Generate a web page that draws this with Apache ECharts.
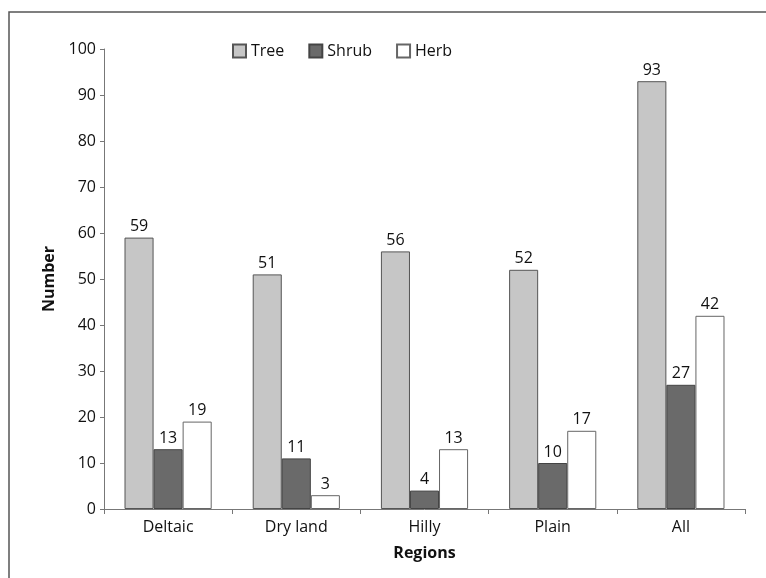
<!DOCTYPE html>
<html>
<head>
<meta charset="utf-8">
<script src="https://cdn.jsdelivr.net/npm/echarts@6/dist/echarts.min.js"></script>
<style>
html,body{margin:0;padding:0;background:#fff;}
#chart{width:766px;height:578px;}
</style>
</head>
<body>
<div id="chart"></div>
<script>
// Species counts by region
const regions = ['Deltaic', 'Dry land', 'Hilly', 'Plain', 'All'];
const tree = [59, 51, 56, 52, 93];
const shrub = [13, 11, 4, 10, 27];
const herb = [19, 3, 13, 17, 42];

const font = '"Open Sans", "DejaVu Sans", sans-serif';

const labelStyle = {
  show: true,
  position: 'top',
  color: '#111',
  fontSize: 16,
  fontFamily: font,
  distance: 3
};

const chart = echarts.init(document.getElementById('chart'));
chart.setOption({
  animation: false,
  backgroundColor: '#fff',
  textStyle: { fontFamily: font },
  legend: {
    top: 38,
    left: 227,
    icon: 'rect',
    itemWidth: 13,
    itemHeight: 13,
    itemGap: 24,
    textStyle: { fontSize: 16, color: '#111', fontFamily: font },
    data: ['Tree', 'Shrub', 'Herb']
  },
  grid: { left: 104, right: 21, top: 49, bottom: 69 },
  graphic: [
    {
      type: 'polyline',
      shape: { points: [[9, 578], [9, 12], [766, 12]] },
      style: { stroke: '#555', lineWidth: 1.5, fill: null },
      silent: true
    }
  ],
  xAxis: {
    type: 'category',
    data: regions,
    name: 'Regions',
    nameLocation: 'middle',
    nameGap: 36,
    nameTextStyle: { fontSize: 16, fontWeight: 'bold', color: '#111', fontFamily: font },
    axisLine: { lineStyle: { color: '#777', width: 1 } },
    axisTick: { show: true, length: 5, lineStyle: { color: '#777' } },
    axisLabel: { fontSize: 16, color: '#111', margin: 10, fontFamily: font }
  },
  yAxis: {
    type: 'value',
    min: 0,
    max: 100,
    interval: 10,
    name: 'Number',
    nameLocation: 'middle',
    nameGap: 46,
    nameTextStyle: { fontSize: 16, fontWeight: 'bold', color: '#111', fontFamily: font },
    axisLine: { show: true, lineStyle: { color: '#777', width: 1 } },
    axisTick: { show: true, length: 4, lineStyle: { color: '#777' } },
    axisLabel: { fontSize: 16, color: '#111', margin: 8, fontFamily: font },
    splitLine: { show: false }
  },
  series: [
    {
      name: 'Tree',
      type: 'bar',
      data: tree,
      barGap: '0%',
      barCategoryGap: '32%',
      itemStyle: { color: '#c6c6c6', borderColor: '#555', borderWidth: 1 },
      label: labelStyle
    },
    {
      name: 'Shrub',
      type: 'bar',
      data: shrub,
      itemStyle: { color: '#6a6a6a', borderColor: '#444', borderWidth: 1 },
      label: labelStyle
    },
    {
      name: 'Herb',
      type: 'bar',
      data: herb,
      itemStyle: { color: '#ffffff', borderColor: '#666', borderWidth: 1 },
      label: labelStyle
    }
  ]
});
</script>
</body>
</html>
